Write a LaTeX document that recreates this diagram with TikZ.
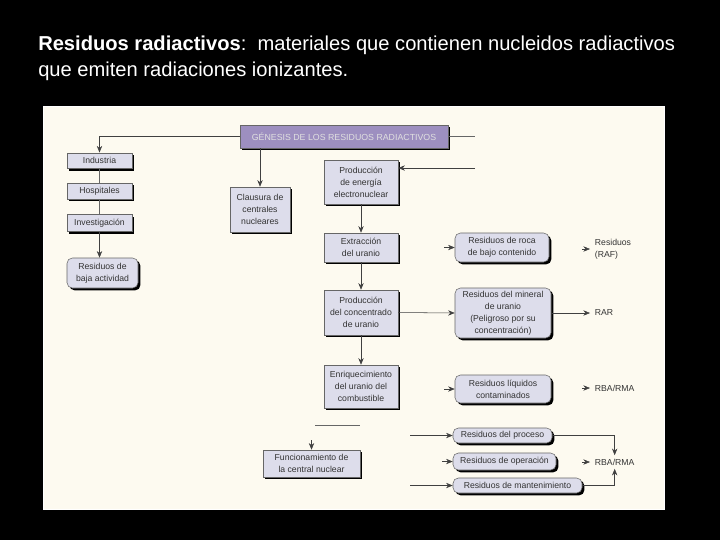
\documentclass[tikz,border=0pt]{standalone}
\usepackage{fontspec}
\setmainfont{Liberation Sans}
\usetikzlibrary{arrows.meta, positioning, shadows, calc}
\definecolor{panelcream}{RGB}{253,250,240}
\definecolor{boxlav}{RGB}{221,221,235}
\definecolor{headpurple}{RGB}{157,143,192}

\begin{document}
\begin{tikzpicture}[x=0.75pt, y=-0.75pt,
        stage/.style={rectangle, draw=black!60, fill=boxlav, align=center, text=black!80,
                      font=\fontsize{6.5}{9}\selectfont, inner sep=1pt,
                      drop shadow={shadow xshift=1.8pt, shadow yshift=-1.8pt, fill=black, opacity=1}},
        waste/.style={stage, rounded corners=4pt},
        head/.style={stage, fill=headpurple, text=white!88!black, font=\fontsize{6.6}{7}\selectfont},
        tag/.style={anchor=west, align=left, inner ysep=2.5pt, inner xsep=3.5pt,
                    font=\fontsize{6.5}{9}\selectfont, text=black!80},
        arrow/.style={-{Stealth[length=5pt, width=4pt]}, black!75},
        link/.style={black!60}
    ]
        % fondo negro y panel
        \useasboundingbox[fill=black] (0,0) rectangle (720,540);
        \fill[panelcream, draw=white] (43,106) rectangle (664,509);

        \node[anchor=north west, align=left, inner sep=0pt, text=white,
              font=\fontsize{15.1}{19.5}\selectfont] (title) at (38,35.5)
            {\textbf{Residuos radiactivos}:\ \ materiales que contienen nucleidos radiactivos\\
             que emiten radiaciones ionizantes.};

        \node[head, minimum width=156pt, minimum height=17.25pt] (gen) at (344,136.5)
            {GÉNESIS DE LOS RESIDUOS RADIACTIVOS};

        % columna izquierda
        \node[stage, minimum width=48.75pt, minimum height=11.5pt] (ind) at (99.5,160.5) {Industria};
        \node[stage, minimum width=48.75pt, minimum height=12pt] (hosp) at (99.5,191) {Hospitales};
        \node[stage, minimum width=48.75pt, minimum height=12.75pt] (inv) at (99.5,223) {Investigación};
        \node[waste, minimum width=53.25pt, minimum height=22.5pt] (baja) at (102.5,273)
            {Residuos de\\baja actividad};

        \node[stage, minimum width=45pt, minimum height=33.75pt] (claus) at (260,209.5)
            {Clausura de\\centrales\\nucleares};

        % columna central
        \node[stage, minimum width=55.5pt, minimum height=33pt] (energia) at (361,182)
            {Producción\\de energía\\electronuclear};
        \node[stage, minimum width=55.5pt, minimum height=21.75pt] (extr) at (361,247.5)
            {Extracción\\del uranio};
        \node[stage, minimum width=55.5pt, minimum height=33.75pt] (conc) at (361,312.5)
            {Producción\\del concentrado\\de uranio};
        \node[stage, minimum width=55.5pt, minimum height=32.25pt] (enriq) at (361,386.5)
            {Enriquecimiento\\del uranio del\\combustible};
        \node[stage, minimum width=72.75pt, minimum height=20.25pt] (func) at (311.5,463.5)
            {Funcionamiento de\\la central nuclear};

        % columna de residuos
        \node[waste, minimum width=70.5pt, minimum height=21.75pt] (roca) at (502,247.5)
            {Residuos de roca\\de bajo contenido};
        \node[waste, minimum width=72pt, minimum height=37.5pt] (mineral) at (503,313)
            {Residuos del mineral\\de uranio\\(Peligroso por su\\concentración)};
        \node[waste, minimum width=72pt, minimum height=21pt] (liq) at (503,389)
            {Residuos líquidos\\contaminados};
        \node[waste, minimum width=74.25pt, minimum height=11.25pt] (proc) at (502.5,435.5)
            {Residuos del proceso};
        \node[waste, minimum width=77.25pt, minimum height=12.75pt] (oper) at (504.5,461.5)
            {Residuos de operación};
        \node[waste, minimum width=96.75pt, minimum height=11.25pt] (mant) at (517.5,485.5)
            {Residuos de mantenimiento};

        % destinos
        \node[tag] (raf) at (590,249) {Residuos\\(RAF)};
        \node[tag] (rar) at (590,313) {RAR};
        \node[tag] (rbaA) at (590,388) {RBA/RMA};
        \node[tag] (rbaB) at (590,462) {RBA/RMA};

        \coordinate (cutA) at (475,136.5);
        \coordinate (cutB) at (475,168);
        \coordinate (stubL) at (315,425);
        \coordinate (stubR) at (360,425);
        \coordinate (inProc) at (410,435.5);
        \coordinate (inMant) at (410,485.5);

        % lineas desde la cabecera
        \draw[arrow] (gen.west) -| (ind.north);
        \draw[arrow] (claus.north |- gen.south) -- (claus.north);
        \draw[link] (gen.east) -- (cutA);
        \draw[arrow] (cutB) -- (cutB -| energia.east);

        \draw[link] (ind.south) -- (hosp.north);
        \draw[link] (hosp.south) -- (inv.north);
        \draw[arrow] (inv.south) -- (inv.south |- baja.north);

        \draw[arrow] (energia.south) -- (extr.north);
        \draw[arrow] (extr.south) -- (conc.north);
        \draw[arrow] (conc.south) -- (enriq.north);
        \draw[link] (stubL) -- (stubR);
        \draw[arrow] ([yshift=7pt]func.north) -- (func.north);

        % entradas a los residuos
        \draw[arrow] ([xshift=-8pt]roca.west) -- (roca.west);
        \draw[arrow] (conc.east) -- (mineral.west);
        \draw[arrow] ([xshift=-8pt]liq.west) -- (liq.west);
        \draw[arrow] (inProc) -- (proc.west);
        \draw[arrow] ([xshift=-8pt]oper.west) -- (oper.west);
        \draw[arrow] (inMant) -- (mant.west);

        % salidas
        \draw[arrow] ([xshift=-6pt]raf.west) -- (raf.west);
        \draw[arrow] (mineral.east) -- (rar.west);
        \draw[arrow] ([xshift=-6pt]rbaA.west) -- (rbaA.west);
        \draw[arrow] ([xshift=-6pt]rbaB.west) -- (rbaB.west);
        \draw[arrow] (proc.east) -| (rbaB.north);
        \draw[arrow] (mant.east) -| (rbaB.south);
\end{tikzpicture}
\end{document}
